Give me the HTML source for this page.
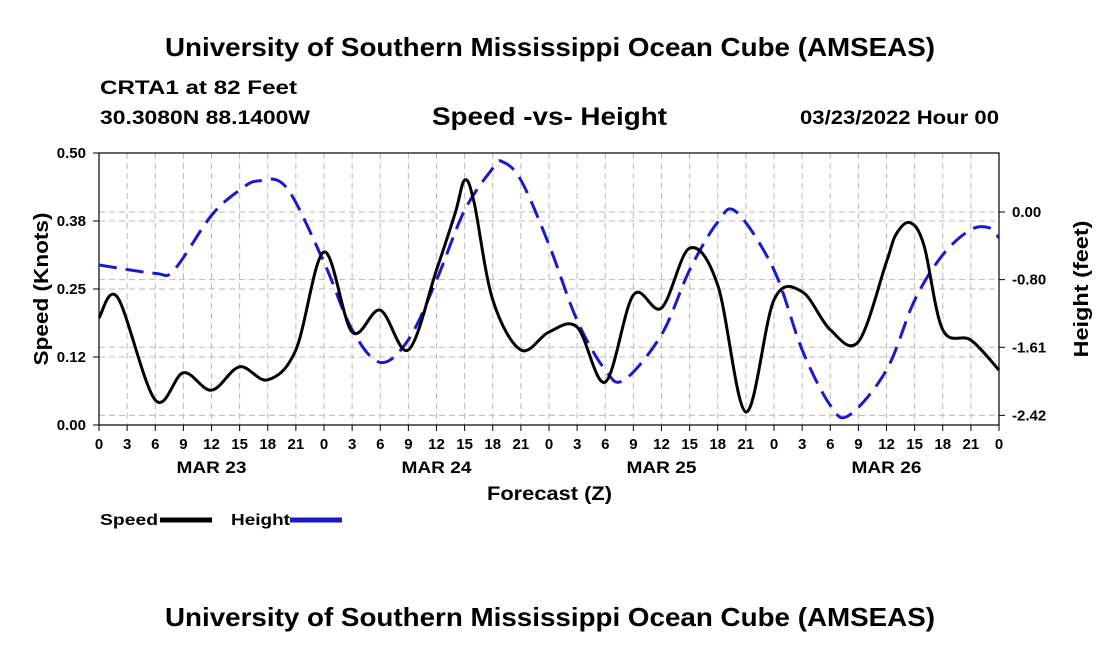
<!DOCTYPE html>
<html><head><meta charset="utf-8"><style>
body{margin:0;background:#fff;}
svg text{font-family:"Liberation Sans",Arial,sans-serif;font-weight:bold;fill:#000;}
</style></head><body>
<svg id="chart" width="1100" height="650" viewBox="0 0 1100 650">
<text x="165" y="56" font-size="26" textLength="770" lengthAdjust="spacingAndGlyphs">University of Southern Mississippi Ocean Cube (AMSEAS)</text>
<text x="100" y="94" font-size="19" textLength="197" lengthAdjust="spacingAndGlyphs">CRTA1 at 82 Feet</text>
<text x="100" y="124" font-size="19" textLength="210" lengthAdjust="spacingAndGlyphs">30.3080N  88.1400W</text>
<text x="432" y="125" font-size="25" textLength="235" lengthAdjust="spacingAndGlyphs">Speed -vs- Height</text>
<text x="800" y="124" font-size="19" textLength="199" lengthAdjust="spacingAndGlyphs">03/23/2022 Hour 00</text>
<g id="grid"></g>
<rect x="99" y="153" width="900" height="272" fill="none" stroke="#000" stroke-width="1.2"/>
<g id="axes"></g>
<path id="heightLine" fill="none" stroke="#1a1acc" stroke-width="3" stroke-dasharray="18,9"/>
<path id="speedLine" fill="none" stroke="#000" stroke-width="3"/>
<text x="42" y="295" font-size="20" text-anchor="middle" textLength="153" lengthAdjust="spacingAndGlyphs" transform="rotate(-90 42 289)">Speed (Knots)</text>
<text x="1082" y="295" font-size="20" text-anchor="middle" textLength="137" lengthAdjust="spacingAndGlyphs" transform="rotate(-90 1082 289)">Height (feet)</text>
<text x="487" y="500" font-size="19" textLength="125" lengthAdjust="spacingAndGlyphs">Forecast (Z)</text>
<g>
<text x="100" y="525" font-size="16" textLength="58" lengthAdjust="spacingAndGlyphs">Speed</text>
<line x1="160" y1="520" x2="212" y2="520" stroke="#000" stroke-width="5"/>
<text x="231" y="525" font-size="16" textLength="59" lengthAdjust="spacingAndGlyphs">Height</text>
<line x1="290" y1="520" x2="342" y2="520" stroke="#1a1acc" stroke-width="5"/>
</g>
<text x="165" y="626" font-size="26" textLength="770" lengthAdjust="spacingAndGlyphs">University of Southern Mississippi Ocean Cube (AMSEAS)</text>
</svg>
<script>
const speedHours=[0,2,6,9,12,15,18,21,24,27,30,33,36,38,39,40,42,45,48,51,54,57,60,63,66,69,72,75,78,81,84,85,86.5,88,90,93,96];
const speedVals=[0.197,0.234,0.046,0.096,0.064,0.107,0.083,0.138,0.318,0.171,0.211,0.138,0.285,0.39,0.45,0.41,0.23,0.138,0.171,0.18,0.079,0.239,0.215,0.325,0.257,0.024,0.23,0.245,0.175,0.153,0.30,0.35,0.372,0.33,0.175,0.156,0.101];
const heightHours=[0,6,8,12,15,17,20,24,27,30,33,36,39,42,43,45,48,51,54,56,60,63,66,68,72,75,78,80,84,87,90,93,95,96];
const heightVals=[-0.63,-0.73,-0.69,-0.04,0.26,0.37,0.29,-0.6,-1.4,-1.79,-1.52,-0.81,0.02,0.52,0.6,0.38,-0.39,-1.29,-1.88,-2.0,-1.46,-0.69,-0.12,0.0,-0.69,-1.64,-2.3,-2.42,-1.88,-1.05,-0.51,-0.21,-0.19,-0.31];
const leftTicks=[0,0.125,0.25,0.375,0.5];
const leftLabels=["0.00","0.12","0.25","0.38","0.50"];
const rightTicks=[0,-0.805,-1.61,-2.42];
const rightLabels=["0.00","-0.80","-1.61","-2.42"];
const hourLabels=["0","3","6","9","12","15","18","21"];
const dayLabels=["MAR 23","MAR 24","MAR 25","MAR 26"];
const X0=99,X1=999,Y0=425,Y1=153;
const xs=h=>X0+(h/96)*(X1-X0);
const ys=v=>Y0-(v/0.5)*(Y0-Y1);
const yh=v=>212-v/0.0119;
const NS="http://www.w3.org/2000/svg";
function mk(tag,attrs,parent){const e=document.createElementNS(NS,tag);for(const k in attrs)e.setAttribute(k,attrs[k]);parent.appendChild(e);return e;}
const grid=document.getElementById('grid'),axes=document.getElementById('axes');
for(let i=0;i<=32;i++){const x=xs(i*3);
 const l=mk('line',{x1:x,x2:x,y1:Y1,y2:Y0,stroke:'#bbb','stroke-dasharray':'6,4'},grid);
 
 const t=mk('line',{x1:x,x2:x,y1:Y0,y2:Y0+6,stroke:'#000'},axes);
 
 const tx=mk('text',{x:x,y:449,'font-size':15,'text-anchor':'middle'},axes);
 tx.textContent=hourLabels[i%8];
 }
dayLabels.forEach((d,i)=>{const tx=mk('text',{x:xs(i*24+12)-35,y:473,'font-size':17,textLength:70,lengthAdjust:'spacingAndGlyphs'},axes);tx.textContent=d;
 });
leftTicks.forEach((v,i)=>{const y=ys(v);
 const l=mk('line',{x1:X0,x2:X1,y1:y,y2:y,stroke:'#bbb','stroke-dasharray':'6,4'},grid);
 
 const tx=mk('text',{x:86,y:y+5,'font-size':15,'text-anchor':'end'},axes);tx.textContent=leftLabels[i];
 
 const t=mk('line',{x1:X0-6,x2:X0,y1:y,y2:y,stroke:'#000'},axes);
 });
rightTicks.forEach((v,i)=>{const y=yh(v);
 const l=mk('line',{x1:X0,x2:X1,y1:y,y2:y,stroke:'#bbb','stroke-dasharray':'6,4'},grid);
 
 const tx=mk('text',{x:1012,y:y+5,'font-size':15},axes);tx.textContent=rightLabels[i];
 
 const t=mk('line',{x1:X1,x2:X1+6,y1:y,y2:y,stroke:'#000'},axes);
 });
function smooth(pts){let d='M'+pts[0][0]+','+pts[0][1];
 for(let i=0;i<pts.length-1;i++){const p0=pts[Math.max(0,i-1)],p1=pts[i],p2=pts[i+1],p3=pts[Math.min(pts.length-1,i+2)];
  const c1=[p1[0]+(p2[0]-p0[0])/6,p1[1]+(p2[1]-p0[1])/6],c2=[p2[0]-(p3[0]-p1[0])/6,p2[1]-(p3[1]-p1[1])/6];
  d+=' C'+c1[0]+','+c1[1]+' '+c2[0]+','+c2[1]+' '+p2[0]+','+p2[1];}return d;}
document.getElementById('speedLine').setAttribute('d',smooth(speedHours.map((h,i)=>[xs(h),ys(speedVals[i])])));
document.getElementById('heightLine').setAttribute('d',smooth(heightHours.map((h,i)=>[xs(h),yh(heightVals[i])])));
</script>
</body></html>
